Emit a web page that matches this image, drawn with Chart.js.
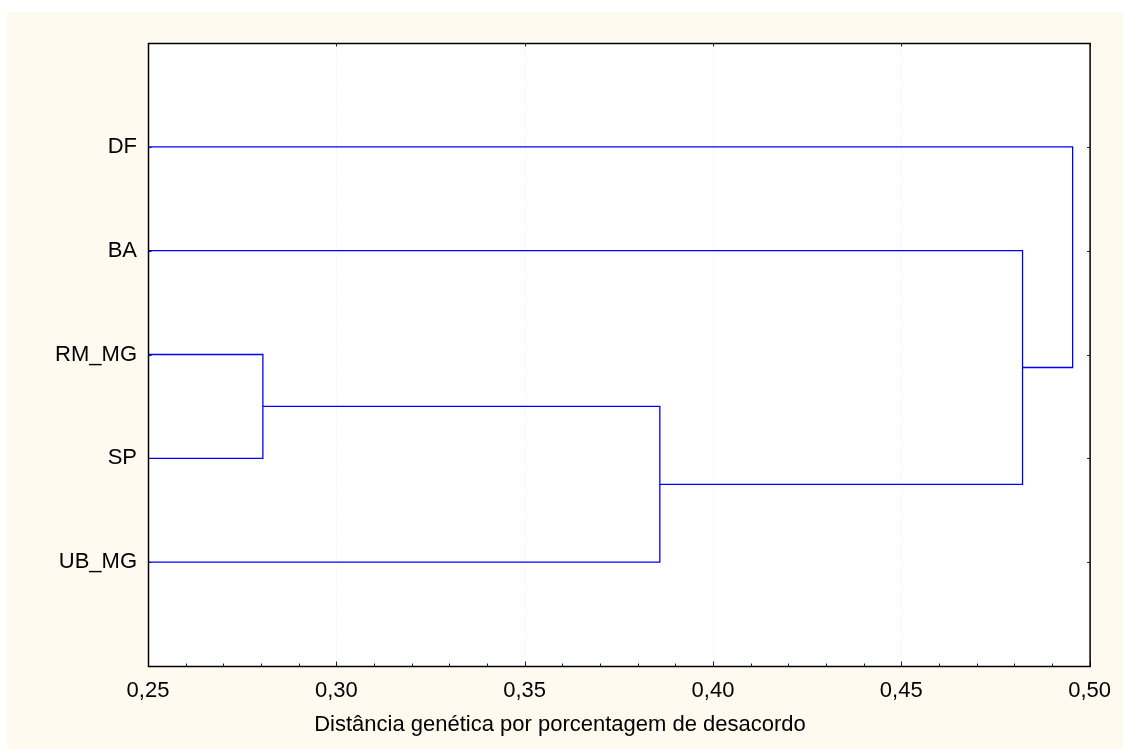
<!DOCTYPE html>
<html>
<head>
<meta charset="utf-8">
<script src="https://cdn.jsdelivr.net/npm/chart.js@4.4.0/dist/chart.umd.min.js"></script>
<style>
    html, body { margin: 0; padding: 0; background: #fff; }
    #wrap { width: 1123px; height: 749px; position: relative; }
</style>
</head>
<body>
<div id="wrap"><canvas id="dendro" width="1123" height="749"></canvas></div>
<script>
// --- DATA ---
const leafNames = ['DF', 'BA', 'RM_MG', 'SP', 'UB_MG'];
// merges: node indices (0-4 leaves, 5+ clusters in merge order)
const mergeA = [2, 4, 1, 0];
const mergeB = [3, 5, 6, 7];
const mergeDist = [0.2805, 0.3859, 0.4822, 0.4955];
const xTickValues = [0.25, 0.30, 0.35, 0.40, 0.45, 0.50];
const xMin = 0.25, xMax = 0.50, xMinorStep = 0.01;
const axisTitle = 'Distância genética por porcentagem de desacordo';

const lineColor = '#0000ff';
const fontFamily = '"Liberation Sans", Arial, sans-serif';

// --- BUILD DENDROGRAM SEGMENTS ---
const nodeX = leafNames.map(() => xMin);
const nodeY = leafNames.map((_, i) => i + 1);
const datasets = [];

mergeDist.forEach((d, i) => {
    const a = mergeA[i], b = mergeB[i];
    datasets.push({
        data: [
            { x: nodeX[a], y: nodeY[a] },
            { x: d, y: nodeY[a] },
            { x: d, y: nodeY[b] },
            { x: nodeX[b], y: nodeY[b] }
        ],
        showLine: true,
        borderColor: lineColor,
        borderWidth: 1.3,
        pointRadius: 0,
        tension: 0,
        fill: false
    });
    nodeX.push(d);
    nodeY.push((nodeY[a] + nodeY[b]) / 2);
});

// --- FRAME, TICKS, BACKGROUND ---
const framePlugin = {
    id: 'frame',
    beforeDraw(chart) {
        const { ctx, chartArea: ca } = chart;
        ctx.save();
        ctx.fillStyle = '#ffffff';
        ctx.fillRect(0, 0, chart.width, chart.height);
        ctx.fillStyle = '#fffaf0';
        ctx.fillRect(7, 12, chart.width - 7, chart.height - 12);
        ctx.fillStyle = '#ffffff';
        ctx.fillRect(ca.left, ca.top, ca.right - ca.left, ca.bottom - ca.top);
        ctx.restore();
    },
    beforeDatasetsDraw(chart) {
        const { ctx, chartArea: ca, scales } = chart;
        ctx.save();
        ctx.strokeStyle = '#ececec';
        ctx.lineWidth = 1;
        ctx.setLineDash([1, 2]);
        xTickValues.slice(1, -1).forEach(v => {
            const px = Math.round(scales.x.getPixelForValue(v)) + 0.5;
            ctx.beginPath();
            ctx.moveTo(px, ca.top);
            ctx.lineTo(px, ca.bottom);
            ctx.stroke();
        });
        ctx.restore();
    },
    afterDatasetsDraw(chart) {
        const { ctx, chartArea: ca, scales } = chart;
        const l = ca.left + 0.5, r = ca.right + 0.5, t = ca.top + 0.5, b = ca.bottom + 0.5;
        ctx.save();
        ctx.strokeStyle = '#222';
        ctx.lineWidth = 1;
        ctx.beginPath();
        // minor + major ticks on bottom
        for (let v = xMin; v <= xMax + 1e-9; v += xMinorStep) {
            const px = Math.round(scales.x.getPixelForValue(v)) + 0.5;
            const major = xTickValues.some(m => Math.abs(m - v) < 1e-6);
            ctx.moveTo(px, b);
            ctx.lineTo(px, b - (major ? 5 : 3));
        }
        // top major ticks
        xTickValues.forEach(v => {
            const px = Math.round(scales.x.getPixelForValue(v)) + 0.5;
            ctx.moveTo(px, t);
            ctx.lineTo(px, t + 3);
        });
        // left / right ticks at leaves
        leafNames.forEach((_, i) => {
            const py = Math.round(scales.y.getPixelForValue(i + 1)) + 0.5;
            ctx.moveTo(l, py);
            ctx.lineTo(l + 3, py);
            ctx.moveTo(r, py);
            ctx.lineTo(r - 3, py);
        });
        ctx.stroke();

        ctx.strokeStyle = '#000';
        ctx.lineWidth = 1.5;
        ctx.strokeRect(l, t, r - l, b - t);

        // axis title
        ctx.fillStyle = '#000';
        ctx.font = '22px ' + fontFamily;
        ctx.textAlign = 'center';
        ctx.textBaseline = 'alphabetic';
        ctx.fillText(axisTitle, 560, 731);
        ctx.restore();
    }
};

const ctx = document.getElementById('dendro').getContext('2d');
const dendroChart = new Chart(ctx, {
    type: 'scatter',
    data: { datasets: datasets },
    options: {
        responsive: false,
        animation: false,
        devicePixelRatio: 1,
        layout: { padding: { left: 7, top: 43, right: 33, bottom: 0 } },
        plugins: {
            legend: { display: false },
            tooltip: { enabled: false }
        },
        scales: {
            x: {
                type: 'linear',
                min: xMin,
                max: xMax,
                grid: { display: false, drawTicks: false },
                border: { display: false },
                afterBuildTicks: scale => { scale.ticks = xTickValues.map(v => ({ value: v })); },
                afterFit: scale => { scale.height = 83; },
                ticks: {
                    color: '#000',
                    padding: 12,
                    maxRotation: 0,
                    font: { size: 22, family: fontFamily },
                    callback: v => v.toFixed(2).replace('.', ',')
                }
            },
            y: {
                type: 'linear',
                min: 0,
                max: 6,
                reverse: true,
                grid: { display: false, drawTicks: false },
                border: { display: false },
                afterBuildTicks: scale => { scale.ticks = leafNames.map((_, i) => ({ value: i + 1 })); },
                afterFit: scale => { scale.width = 141; },
                ticks: {
                    color: '#000',
                    padding: 11,
                    font: { size: 22, family: fontFamily },
                    callback: v => leafNames[v - 1] || ''
                }
            }
        }
    },
    plugins: [framePlugin]
});
</script>
</body>
</html>
